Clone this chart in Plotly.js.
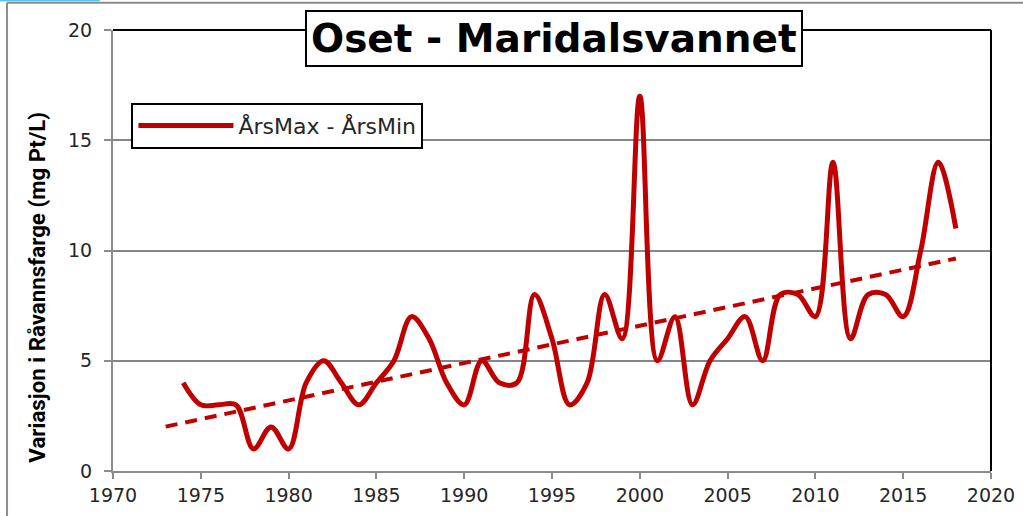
<!DOCTYPE html>
<html>
<head>
<meta charset="utf-8">
<script src="https://cdn.plot.ly/plotly-3.0.1.min.js"></script>
<style>
  html, body { margin: 0; padding: 0; background: #ffffff; }
  #chart { width: 1023px; height: 516px; }
</style>
</head>
<body>
<div id="chart"></div>
<script>
// ---- data ----
const years = [1974, 1975, 1976, 1977, 1978, 1979, 1980, 1981, 1982, 1983,
               1984, 1985, 1986, 1987, 1988, 1989, 1990, 1991, 1992, 1993,
               1994, 1995, 1996, 1997, 1998, 1999, 2000, 2001, 2002, 2003,
               2004, 2005, 2006, 2007, 2008, 2009, 2010, 2011, 2012, 2013,
               2014, 2015, 2016, 2017, 2018];
const rangeValues = [4, 3, 3, 3, 1, 2, 1, 4, 5, 4,
                     3, 4, 5, 7, 6, 4, 3, 5, 4, 4,
                     8, 6, 3, 4, 8, 6, 17, 5, 7, 3,
                     5, 6, 7, 5, 8, 8, 7, 14, 6, 8,
                     8, 7, 10, 14, 11];
const seriesName = "ÅrsMax - ÅrsMin";
const chartTitle = "Oset - Maridalsvannet";
const yTitle = "Variasjon i Råvannsfarge (mg Pt/L)";
const xTickVals = [1970, 1975, 1980, 1985, 1990, 1995, 2000, 2005, 2010, 2015, 2020];
const yTickVals = [0, 5, 10, 15, 20];
const trendBackward = 1; // trendline extended one year backwards

// ---- linear trendline (least squares) ----
const n = years.length;
const mx = years.reduce((a, b) => a + b, 0) / n;
const my = rangeValues.reduce((a, b) => a + b, 0) / n;
let sxy = 0, sxx = 0;
for (let i = 0; i < n; i++) {
  sxy += (years[i] - mx) * (rangeValues[i] - my);
  sxx += (years[i] - mx) * (years[i] - mx);
}
const slope = sxy / sxx;
const intercept = my - slope * mx;
const trendX = [years[0] - trendBackward, years[n - 1]];
const trendY = trendX.map(x => intercept + slope * x);

const red = "#C00000";
const tickFont = { family: "DejaVu Sans, Verdana, sans-serif", size: 19, color: "#262626" };

const traces = [
  {
    x: years, y: rangeValues, type: "scatter", mode: "lines",
    name: seriesName,
    line: { color: red, width: 5, shape: "spline", smoothing: 1 },
    hoverinfo: "x+y"
  },
  {
    x: trendX, y: trendY, type: "scatter", mode: "lines",
    name: "Lineær trend", showlegend: false,
    line: { color: red, width: 4, dash: "12px,8px" }
  }
];

const layout = {
  width: 1023, height: 516,
  margin: { l: 113, r: 32, t: 30, b: 45, pad: 0 },
  paper_bgcolor: "#ffffff",
  plot_bgcolor: "#ffffff",
  showlegend: true,
  xaxis: {
    range: [1970, 2020],
    tickvals: xTickVals,
    ticktext: xTickVals.map(String),
    ticks: "outside", ticklen: 6, tickwidth: 2, tickcolor: "#8c8c8c",
    showgrid: false, zeroline: false,
    showline: true, linecolor: "#8c8c8c", linewidth: 2,
    tickfont: tickFont,
    fixedrange: true
  },
  yaxis: {
    range: [0, 20],
    tickvals: yTickVals,
    ticktext: yTickVals.map(String),
    ticks: "outside", ticklen: 7, tickwidth: 2, tickcolor: "#8c8c8c",
    ticklabelstandoff: 8,
    showgrid: true, gridcolor: "#868686", gridwidth: 2,
    zeroline: false,
    showline: true, linecolor: "#8c8c8c", linewidth: 2,
    tickfont: tickFont,
    fixedrange: true
  },
  legend: {
    x: 0.021, y: 0.835, xanchor: "left", yanchor: "top",
    bgcolor: "#ffffff", bordercolor: "#000000", borderwidth: 2,
    font: { family: "DejaVu Sans, Verdana, sans-serif", size: 22, color: "#262626" },
    itemwidth: 95,
    tracegroupgap: 0
  },
  annotations: [
    {
      xref: "paper", yref: "paper", x: 0.502, y: 0.981,
      xanchor: "center", yanchor: "middle",
      text: "<b>" + chartTitle + "</b>",
      showarrow: false,
      font: { family: "DejaVu Sans, Verdana, sans-serif", size: 39, color: "#000000" },
      bgcolor: "#ffffff", bordercolor: "#000000", borderwidth: 2, borderpad: 4
    },
    {
      xref: "paper", yref: "paper", x: -0.0866, y: 0.418,
      xanchor: "center", yanchor: "middle",
      text: "<b>" + yTitle + "</b>",
      textangle: -90,
      showarrow: false,
      font: { family: "Liberation Sans Narrow, Arial Narrow, Roboto, sans-serif", size: 22.3, color: "#000000" }
    }
  ],
  shapes: [
    // black top and right plot border
    { type: "line", xref: "paper", yref: "paper", x0: 0, x1: 1, y0: 1, y1: 1,
      line: { color: "#000000", width: 2 }, layer: "above" },
    { type: "line", xref: "paper", yref: "paper", x0: 1, x1: 1, y0: 0, y1: 1,
      line: { color: "#000000", width: 2 }, layer: "above" },
    // outer chart-area frame
    { type: "line", xref: "paper", yref: "paper", x0: -0.1207, x1: -0.1207, y0: -0.2, y1: 1.062,
      line: { color: "#8c8c8c", width: 2 } },
    { type: "line", xref: "paper", yref: "paper", x0: -0.1207, x1: 1.1, y0: 1.062, y1: 1.062,
      line: { color: "#8c8c8c", width: 2 } },
    { type: "line", xref: "paper", yref: "paper", x0: -0.1287, x1: -0.015, y0: 1.067, y1: 1.067,
      line: { color: "#5EC4EE", width: 2 } }
  ]
};

Plotly.newPlot("chart", traces, layout, { displayModeBar: false, responsive: false });
</script>
</body>
</html>
